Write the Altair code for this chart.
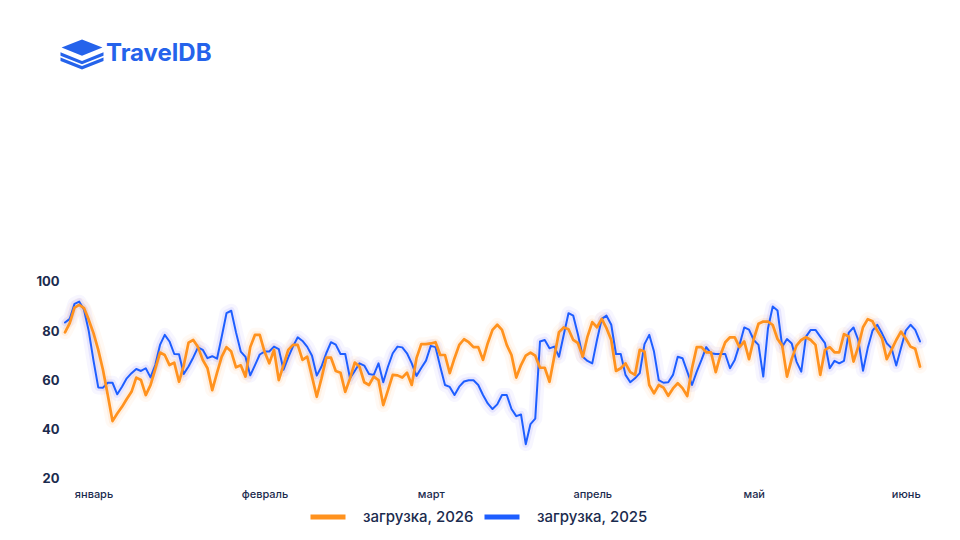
import altair as alt
import pandas as pd

# ---- data ----
SERIES_2026 = "загрузка, 2026"
SERIES_2025 = "загрузка, 2025"

load_2026 = [
    79.5, 83.3, 89.6, 90.7, 89.4, 84.6, 79.2, 72.4, 64.2, 54.0,
    43.4, 46.5, 49.2, 52.4, 55.3, 61.1, 60.1, 54.0, 58.0, 64.5,
    71.3, 70.3, 66.2, 67.2, 59.4, 66.0, 75.3, 76.4, 73.5, 68.3,
    64.9, 56.0, 63.0, 69.6, 73.5, 71.7, 65.3, 66.1, 61.5, 73.5,
    78.5, 78.5, 71.7, 66.9, 72.4, 60.1, 66.2, 72.4, 74.4, 74.4,
    68.3, 69.6, 61.5, 53.3, 60.8, 69.2, 69.2, 63.8, 63.1, 55.3,
    60.8, 67.2, 65.6, 59.2, 58.1, 61.5, 60.1, 49.9, 56.0, 62.2,
    62.0, 61.1, 63.1, 58.1, 69.0, 74.7, 74.7, 75.0, 75.5, 70.3,
    70.3, 62.9, 69.0, 74.4, 76.7, 75.5, 73.5, 73.5, 68.3, 75.1,
    80.5, 82.6, 80.5, 74.4, 70.3, 61.1, 66.2, 70.0, 71.3, 70.0,
    65.1, 65.1, 59.4, 69.6, 79.6, 81.5, 80.8, 76.4, 75.1, 69.6,
    77.8, 83.7, 81.6, 85.0, 81.2, 76.4, 63.8, 64.9, 66.9, 63.3,
    62.2, 72.4, 71.7, 58.1, 54.7, 58.1, 57.0, 53.7, 56.7, 58.8,
    56.8, 53.6, 64.9, 73.5, 73.5, 71.4, 71.4, 63.3, 70.3, 75.5,
    77.5, 77.5, 73.5, 75.8, 68.6, 76.8, 83.0, 83.9, 83.9, 82.5,
    76.8, 74.1, 61.5, 68.7, 74.1, 76.4, 77.5, 76.4, 74.4, 62.2,
    72.4, 73.5, 71.4, 71.4, 78.8, 77.8, 67.6, 73.7, 81.6, 84.9,
    84.0, 80.2, 77.1, 68.6, 72.4, 76.4, 79.8, 77.0, 73.7, 72.8,
    65.6,
]

load_2025 = [
    83.5, 85.0, 91.1, 92.0, 88.7, 80.0, 68.0, 57.1, 57.0, 59.0,
    59.0, 54.3, 57.4, 60.8, 62.9, 64.6, 63.8, 64.9, 61.2, 66.2,
    74.4, 78.5, 75.8, 70.7, 70.6, 62.6, 65.6, 69.3, 73.4, 72.4,
    69.0, 69.8, 68.8, 77.8, 87.3, 88.3, 79.5, 71.7, 69.5, 62.0,
    66.2, 70.5, 71.7, 71.7, 73.7, 72.7, 64.3, 69.3, 73.8, 77.5,
    76.0, 73.6, 70.0, 61.9, 65.6, 71.0, 75.5, 74.5, 70.7, 70.7,
    60.8, 63.8, 66.9, 66.0, 62.6, 62.2, 66.9, 59.2, 65.6, 71.0,
    73.7, 73.4, 71.0, 66.9, 61.8, 65.0, 68.0, 74.0, 73.5, 65.5,
    58.1, 57.3, 54.0, 57.4, 59.5, 60.0, 60.0, 58.1, 54.0, 50.6,
    48.3, 50.2, 54.0, 54.0, 48.3, 45.4, 46.1, 34.0, 42.2, 44.4,
    75.8, 76.4, 73.0, 73.7, 69.6, 78.5, 87.3, 86.3, 78.5, 69.6,
    67.9, 66.9, 76.4, 85.0, 86.3, 82.6, 70.7, 70.7, 62.2, 59.2,
    60.8, 62.9, 74.7, 78.5, 71.7, 60.1, 59.0, 59.2, 62.2, 69.6,
    69.0, 63.5, 58.1, 63.5, 68.3, 73.5, 71.0, 70.7, 70.7, 70.7,
    64.9, 68.3, 74.4, 81.5, 80.6, 76.4, 74.4, 61.5, 81.2, 90.0,
    88.4, 73.7, 76.8, 75.0, 67.6, 63.5, 77.8, 80.5, 80.5, 77.8,
    75.1, 64.9, 67.9, 66.9, 67.9, 79.4, 81.5, 76.4, 63.9, 73.1,
    80.2, 82.6, 79.1, 75.1, 73.1, 66.0, 73.1, 80.2, 82.6, 80.5,
    75.8,
]

month_labels = ["январь", "февраль", "март", "апрель", "май", "июнь"]
month_ticks = [6, 42, 77, 111, 145, 177]
y_ticks = [20, 40, 60, 80, 100]

ORANGE = "#FF921E"
BLUE = "#1E5EFF"
NAVY = "#1B2B4E"
LOGO_BLUE = "#2563EB"
FONT = "Inter"

rows = []
for i, v in enumerate(load_2025):
    rows.append({"day": i, "value": v, "series": SERIES_2025})
for i, v in enumerate(load_2026):
    rows.append({"day": i, "value": v, "series": SERIES_2026})
df = pd.DataFrame(rows)

label_expr = "''"
for pos, lab in reversed(list(zip(month_ticks, month_labels))):
    label_expr = f"datum.value == {pos} ? '{lab}' : " + label_expr

x_enc = alt.X(
    "day:Q",
    scale=alt.Scale(domain=[0, len(load_2026) - 1], nice=False, zero=False),
    axis=alt.Axis(
        values=month_ticks, labelExpr=label_expr, title=None, grid=False,
        domain=False, ticks=False, labelPadding=10, labelFontSize=11,
        labelFont=FONT, labelColor=NAVY, labelFontWeight=500,
        labelAlign="center", labelFlush=False,
    ),
)
y_enc = alt.Y(
    "value:Q",
    scale=alt.Scale(domain=[20, 100], nice=False, zero=False),
    axis=alt.Axis(
        values=y_ticks, title=None, grid=False, domain=False, ticks=False,
        labelPadding=6, labelFontSize=13, labelFont=FONT, labelColor=NAVY,
        labelFontWeight=700,
    ),
)

is_2026 = alt.datum.series == SERIES_2026

base = alt.Chart(df)

glow_wide = base.mark_line(opacity=0.05, strokeWidth=14, strokeJoin="round", strokeCap="round").encode(
    x=x_enc, y=y_enc, detail="series:N",
    color=alt.condition(is_2026, alt.value(ORANGE), alt.value("#5B4DFF")),
)
glow = base.mark_line(opacity=0.10, strokeWidth=7, strokeJoin="round", strokeCap="round").encode(
    x=x_enc, y=y_enc, detail="series:N",
    color=alt.condition(is_2026, alt.value(ORANGE), alt.value("#5B4DFF")),
)

lines = base.mark_line(strokeJoin="round", strokeCap="round").encode(
    x=x_enc,
    y=y_enc,
    color=alt.Color(
        "series:N",
        scale=alt.Scale(domain=[SERIES_2026, SERIES_2025], range=[ORANGE, BLUE]),
        legend=alt.Legend(
            title=None, orient="none", direction="horizontal",
            legendX=243, legendY=215,
            symbolType="stroke", symbolSize=1225, symbolStrokeWidth=5,
            labelFontSize=15, labelFont=FONT, labelColor=NAVY,
            labelFontWeight=500, labelOffset=15, columnPadding=0,
        ),
    ),
    strokeWidth=alt.condition(is_2026, alt.value(2.7), alt.value(2.0)),
    order=alt.Order("series:N", sort="descending"),
)

logo_df = pd.DataFrame({"name": ["TravelDB"]})
icon_path = (
    "M-0.95,-0.30 L0,-0.68 L0.95,-0.30 L0,0.08 Z "
    "M-1,-0.08 L0,0.32 L1,-0.08 L1,0.08 L0,0.48 L-1,0.08 Z "
    "M-1,0.16 L0,0.56 L1,0.16 L1,0.32 L0,0.72 L-1,0.32 Z"
)
logo_icon = alt.Chart(logo_df).mark_point(
    shape=icon_path, filled=True, size=1849, color=LOGO_BLUE, opacity=1, strokeWidth=0
).encode(x=alt.value(17), y=alt.value(-228))
logo_text = alt.Chart(logo_df).mark_text(
    align="left", baseline="middle", font=FONT, fontSize=24, fontWeight=700,
    color=LOGO_BLUE,
).encode(text="name:N", x=alt.value(41), y=alt.value(-228))

chart = alt.layer(glow_wide, glow, lines, logo_icon, logo_text).properties(
    width=855,
    height=196.6,
    autosize=alt.AutoSizeParams(type="none"),
    padding={"left": 57, "top": 274, "right": 32, "bottom": 54},
    background="white",
).configure_view(stroke=None)

chart.save("out.html", embed_options={"renderer": "svg", "actions": False})
